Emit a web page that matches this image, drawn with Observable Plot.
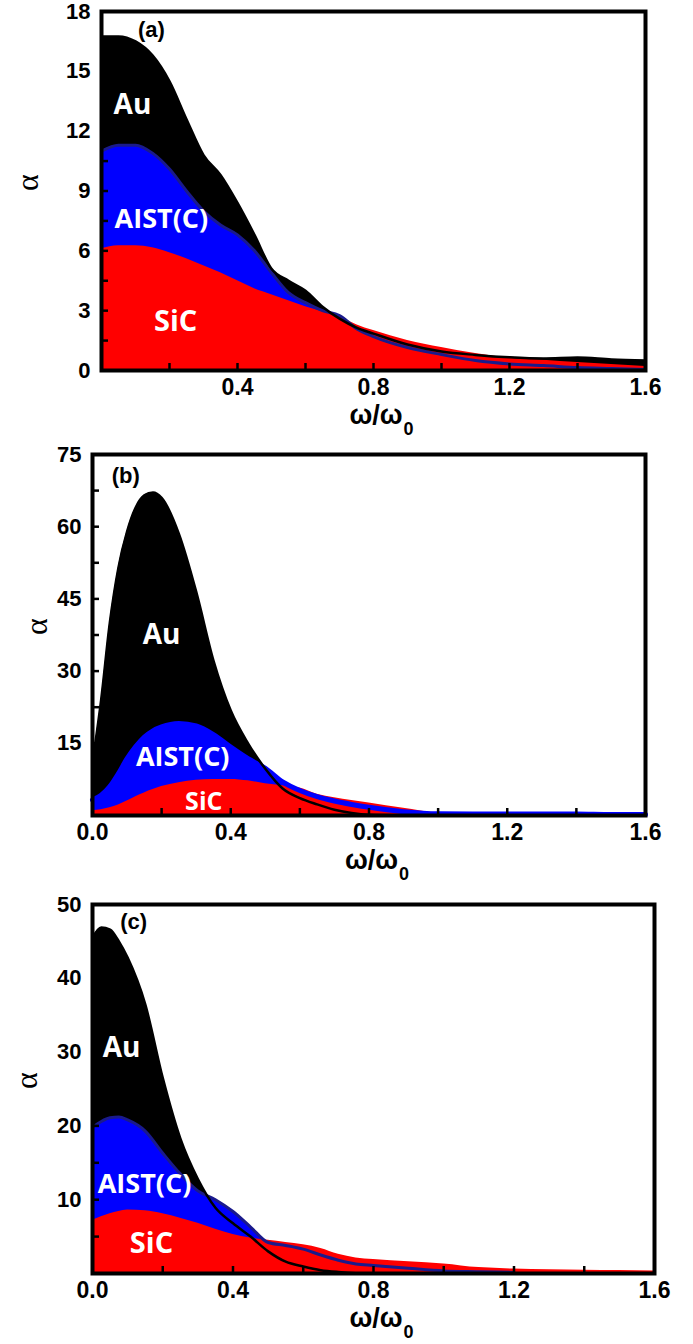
<!DOCTYPE html>
<html><head><meta charset="utf-8">
<script src="https://cdn.jsdelivr.net/npm/d3@7"></script>
<script src="https://cdn.jsdelivr.net/npm/@observablehq/plot@0.6"></script>
<style>body{margin:0;background:#fff;width:693px} svg{display:block}</style>
</head><body><div id="pa"></div><div id="pb"></div><div id="pc"></div>
<script>
// ---- Panel (a) ----
const xA    = [0,0.05,0.1,0.15,0.2,0.25,0.3,0.35,0.4,0.45,0.5,0.55,0.6,0.65,0.7,0.75,0.8,0.9,1.0,1.1,1.2,1.3,1.4,1.5,1.6];
const auA   = [16.75,16.75,16.5,15.8,14.5,12.6,10.8,9.8,8.4,6.8,5.1,4.5,4.0,3.2,2.6,2.15,1.85,1.3,0.95,0.78,0.66,0.6,0.65,0.55,0.5];
const aistA = [11.0,11.3,11.3,10.9,10.1,9.0,8.0,7.3,6.8,6.0,4.9,3.9,3.4,3.0,2.75,2.1,1.7,1.15,0.8,0.5,0.33,0.25,0.15,0.1,0.05];
const sicA  = [6.1,6.25,6.25,6.15,5.9,5.6,5.25,4.9,4.5,4.1,3.8,3.5,3.2,2.95,2.7,2.3,2.0,1.5,1.15,0.85,0.62,0.52,0.4,0.3,0.2];
const yTicksA = [0,3,6,9,12,15,18];
const yMinorA = [1.5,3,4.5,6,7.5,9,10.5,12,13.5,15,16.5];
const xTicksA = [0.4,0.8,1.2,1.6];

// ---- Panel (b) ----
const xB    = [0,0.025,0.05,0.075,0.1,0.125,0.15,0.175,0.2,0.25,0.3,0.35,0.4,0.45,0.5,0.55,0.6,0.65,0.7,0.75,0.8,0.9,1.0,1.1,1.2,1.3,1.4,1.5,1.6];
const auB   = [11,24,40,51.5,59,64,66.5,67.1,66,58.5,46.5,32.2,21.8,15,9.7,5.6,3.6,2.3,1.2,0.5,0.15,0.03,0,0,0,0,0,0,0];
const aistB = [3.2,4.2,6.0,8.7,11.8,14.3,16.3,17.6,18.4,19.1,18.6,16.8,14.2,11.8,9.8,7.0,5.2,3.9,3.0,2.3,1.7,0.8,0.35,0.3,0.3,0.3,0.3,0.2,0.2];
const sicB  = [1.0,1.2,1.6,2.2,3.0,3.9,4.7,5.4,6.0,6.8,7.3,7.5,7.5,7.2,6.6,6.2,5.7,4.4,3.7,3.1,2.6,1.5,0.55,0.45,0.4,0.35,0.35,0.35,0.35];
const yTicksB = [15,30,45,60,75];
const yMinorB = [7.5,15,22.5,30,37.5,45,52.5,60,67.5];
const xTicksB = [0,0.4,0.8,1.2,1.6];

// ---- Panel (c) ----
const xC    = [0,0.025,0.05,0.075,0.1,0.15,0.2,0.25,0.3,0.35,0.4,0.45,0.5,0.55,0.6,0.65,0.7,0.75,0.8,0.9,1.0,1.1,1.2,1.3,1.4,1.5,1.6];
const auC   = [45.5,46.9,46.6,45,42.8,36.5,26.5,18.3,12.8,8.9,6.8,5.0,3.0,1.6,0.95,0.45,0.2,0.05,0,0,0,0,0,0,0,0,0];
const aistC = [19.8,20.6,21.1,21.2,20.8,19.3,16.3,13.5,11.2,10.0,8.4,6.3,4.2,3.8,3.3,2.5,1.8,1.3,1.1,0.7,0.35,0.25,0.15,0.05,0.05,0.05,0.05];
const sicC  = [7.2,7.7,8.1,8.4,8.6,8.5,8.1,7.5,6.8,6.0,5.3,4.8,4.5,4.2,3.9,3.4,2.6,2.1,1.9,1.6,1.3,0.8,0.6,0.5,0.45,0.4,0.35];
const yTicksC = [10,20,30,40,50];
const yMinorC = [5,10,15,20,25,30,35,40,45];
const xTicksC = [0,0.4,0.8,1.2,1.6];

const xMinor = [0.2,0.4,0.6,0.8,1.0,1.2,1.4];
const materials = ["Au","AIST(C)","SiC"];

const tickFont = "'Liberation Sans', Arial, sans-serif";
const labFont = "'Open Sans', sans-serif";
const TICK = 7; // inward tick length in px

function panel(o) {
  const rows = o.xs.map((x, i) => ({x, au: o.au[i], aist: o.aist[i], sic: o.sic[i]}));
  const blueRows = rows.filter(d => d.x <= o.blueEnd);
  const innerW = 693 - o.ml - o.mr;
  const innerH = o.height - o.mt - o.mb;
  const yTickLen = o.yMax * TICK / innerH;   // tick length converted to data units
  const xTickLen = 1.6 * TICK / innerW;
  return Plot.plot({
    width: 693, height: o.height,
    marginLeft: o.ml, marginRight: o.mr, marginTop: o.mt, marginBottom: o.mb,
    x: {domain: [0, 1.6], label: null},
    y: {domain: [0, o.yMax], label: null},
    marks: [
      Plot.areaY(rows, {x: "x", y: "au", fill: "#000000", curve: "monotone-x"}),
      Plot.areaY(rows, {x: "x", y: "aist", fill: "#0000ff", curve: "monotone-x"}),
      Plot.areaY(rows, {x: "x", y: "sic", fill: "#ff0000", curve: "monotone-x"}),
      Plot.lineY(blueRows, {x: "x", y: "aist", stroke: o.blueStroke, strokeWidth: o.blueWidth, curve: "monotone-x"}),
      Plot.lineY(rows, {x: "x", y: "au", stroke: "#000000", strokeWidth: 2.5, curve: "monotone-x"}),
      Plot.ruleX(xMinor, {x: d => d, y1: 0, y2: yTickLen, stroke: "black", strokeWidth: 2.5}),
      Plot.ruleY(o.yMinor, {y: d => d, x1: 0, x2: xTickLen, stroke: "black", strokeWidth: 2.5}),
      Plot.axisY(o.yTicks, {anchor: "left", tickSize: 0, tickPadding: 11, fontSize: 22, fontWeight: "bold", fontFamily: tickFont, label: null}),
      Plot.axisX(o.xTicks, {anchor: "bottom", tickSize: 0, tickPadding: 8, fontSize: 23, fontWeight: "bold", fontFamily: tickFont, label: null, tickFormat: d3.format(".1f")}),
      Plot.text([materials[0]], {x: o.lab[0][0], y: o.lab[0][1], text: d => d, fill: "white", fontSize: o.labSize[0], fontWeight: "bold", fontFamily: labFont}),
      Plot.text([materials[1]], {x: o.lab[1][0], y: o.lab[1][1], text: d => d, fill: "white", fontSize: o.labSize[1], fontWeight: "bold", fontFamily: labFont}),
      Plot.text([materials[2]], {x: o.lab[2][0], y: o.lab[2][1], text: d => d, fill: "white", fontSize: o.labSize[2], fontWeight: "bold", fontFamily: labFont}),
      Plot.text([o.tag], {x: o.tagPos[0], y: o.tagPos[1], text: d => d, fill: "black", fontSize: 22, fontWeight: "bold", fontFamily: tickFont}),
      Plot.text(["α"], {frameAnchor: "left", dx: o.alphaDx, rotate: -90, text: d => d, fontSize: 32, fontFamily: "'Liberation Serif', serif"}),
      Plot.text(["ω/ω"], {frameAnchor: "bottom", dx: 29, dy: 53, textAnchor: "end", text: d => d, fontSize: 27, fontWeight: "bold", fontFamily: tickFont}),
      Plot.text(["0"], {frameAnchor: "bottom", dx: 30, dy: 64, textAnchor: "start", text: d => d, fontSize: 18, fontWeight: "bold", fontFamily: tickFont}),
      Plot.frame({stroke: "black", strokeWidth: 4})
    ]
  });
}

document.getElementById("pa").append(panel({
  xs: xA, au: auA, aist: aistA, sic: sicA, yMax: 18, yTicks: yTicksA, yMinor: yMinorA, xTicks: xTicksA,
  height: 440, ml: 101, mr: 48, mt: 11, mb: 70,
  blueEnd: 1.6, blueStroke: "#1a1a8c", blueWidth: 3,
  lab: [[0.091, 13.3], [0.176, 7.56], [0.218, 2.44]], labSize: [28, 27, 29],
  tag: "(a)", tagPos: [0.147, 17.06], alphaDx: -74
}));
document.getElementById("pb").append(panel({
  xs: xB, au: auB, aist: aistB, sic: sicB, yMax: 75, yTicks: yTicksB, yMinor: yMinorB, xTicks: xTicksB,
  height: 450, ml: 92, mr: 48, mt: 14, mb: 75,
  blueEnd: 1.6, blueStroke: "#0000ff", blueWidth: 5,
  lab: [[0.2, 37.4], [0.261, 12.05], [0.322, 2.9]], labSize: [28, 27, 25],
  tag: "(b)", tagPos: [0.096, 70.6], alphaDx: -56
}));
document.getElementById("pc").append(panel({
  xs: xC, au: auC, aist: aistC, sic: sicC, yMax: 50, yTicks: yTicksC, yMinor: yMinorC, xTicks: xTicksC,
  height: 454, ml: 92, mr: 39, mt: 14, mb: 71,
  blueEnd: 1.2, blueStroke: "#1a1a8c", blueWidth: 3,
  lab: [[0.083, 30.5], [0.148, 12.06], [0.168, 4.07]], labSize: [28, 27, 29],
  tag: "(c)", tagPos: [0.117, 47.7], alphaDx: -66
}));
</script>
</body></html>
